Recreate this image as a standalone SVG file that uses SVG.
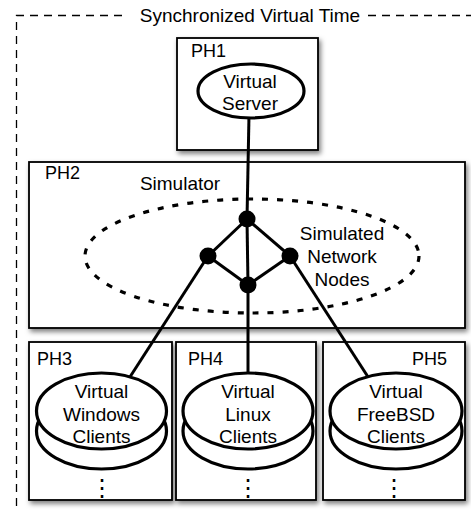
<svg xmlns="http://www.w3.org/2000/svg" width="471" height="512" viewBox="0 0 471 512">
<defs>
<filter id="sh" x="-10%" y="-10%" width="125%" height="130%">
<feDropShadow dx="2" dy="3" stdDeviation="2.5" flood-color="#000" flood-opacity="0.5"/>
</filter>
</defs>
<style>
text{font-family:"Liberation Sans",Arial,sans-serif;fill:#000}
.box{fill:#fff;stroke:#000;stroke-width:1.8;filter:url(#sh)}
.lbl{font-size:18px}
.ct{font-size:19px;text-anchor:middle}
.ell{fill:#fff;stroke:#000;stroke-width:3.2}
.ln{stroke:#000;stroke-width:3;fill:none}
.dot{fill:#000}
.outer{stroke:#000;stroke-width:1.3;fill:none;stroke-dasharray:8 6}
.vd{font-family:"DejaVu Sans",sans-serif;font-size:24px;text-anchor:middle}
</style>
<g id="frame">
<path class="outer" d="M16.5,520 V15.5 H128"/>
<path class="outer" d="M368,15.5 H480"/>
<text x="250" y="22" text-anchor="middle" style="font-size:19px">Synchronized Virtual Time</text>
</g>
<g id="PH1">
<rect class="box" x="177" y="38" width="141" height="112"/>
<text class="lbl" x="191" y="57">PH1</text>
</g>
<g id="PH2">
<rect class="box" x="29" y="162" width="436" height="166"/>
<text class="lbl" x="45" y="179">PH2</text>
<text class="ct" x="180" y="190">Simulator</text>
<ellipse cx="252" cy="256" rx="167" ry="57" fill="none" stroke="#000" stroke-width="3.2" stroke-dasharray="6 9"/>
<text class="ct" x="342" y="240">Simulated</text>
<text class="ct" x="342" y="263">Network</text>
<text class="ct" x="342" y="286">Nodes</text>
</g>
<g id="PH3">
<rect class="box" x="29" y="342" width="143" height="158"/>
<text class="lbl" x="37" y="365">PH3</text>
</g>
<g id="PH4">
<rect class="box" x="176" y="342" width="140" height="158"/>
<text class="lbl" x="188" y="365">PH4</text>
</g>
<g id="PH5">
<rect class="box" x="323" y="342" width="142" height="158"/>
<text class="lbl" x="412" y="365">PH5</text>
</g>
<g id="connectors">
<line class="ln" x1="249" y1="115" x2="247" y2="219"/>
<line class="ln" x1="247" y1="219" x2="208" y2="256"/>
<line class="ln" x1="247" y1="219" x2="290" y2="256"/>
<line class="ln" x1="208" y1="256" x2="248" y2="285"/>
<line class="ln" x1="290" y1="256" x2="248" y2="285"/>
<line class="ln" x1="247" y1="219" x2="248" y2="285"/>
<line class="ln" x1="208" y1="256" x2="128" y2="380"/>
<line class="ln" x1="290" y1="256" x2="370" y2="380"/>
<line class="ln" x1="248" y1="285" x2="248" y2="376"/>
</g>
<g id="net-nodes">
<circle class="dot" cx="247" cy="219" r="8.5"/>
<circle class="dot" cx="208" cy="256" r="8.5"/>
<circle class="dot" cx="290" cy="256" r="8.5"/>
<circle class="dot" cx="248" cy="285" r="8.5"/>
</g>
<g id="server">
<ellipse class="ell" cx="251" cy="91" rx="53" ry="27"/>
<text class="ct" x="250" y="88">Virtual</text>
<text class="ct" x="250" y="110">Server</text>
</g>
<g id="windows-clients">
<ellipse class="ell" cx="101.5" cy="431" rx="65" ry="38"/>
<ellipse class="ell" cx="101.5" cy="411" rx="65" ry="38"/>
<text class="ct" x="101.5" y="398">Virtual</text>
<text class="ct" x="101.5" y="421">Windows</text>
<text class="ct" x="101.5" y="443">Clients</text>
<text class="vd" x="102" y="496">⋮</text>
</g>
<g id="linux-clients">
<ellipse class="ell" cx="248" cy="431" rx="65" ry="38"/>
<ellipse class="ell" cx="248" cy="411" rx="65" ry="38"/>
<text class="ct" x="248" y="398">Virtual</text>
<text class="ct" x="248" y="421">Linux</text>
<text class="ct" x="248" y="443">Clients</text>
<text class="vd" x="248" y="496">⋮</text>
</g>
<g id="freebsd-clients">
<ellipse class="ell" cx="396" cy="431" rx="66" ry="38"/>
<ellipse class="ell" cx="396" cy="411" rx="66" ry="38"/>
<text class="ct" x="396" y="398">Virtual</text>
<text class="ct" x="396" y="421">FreeBSD</text>
<text class="ct" x="396" y="443">Clients</text>
<text class="vd" x="394" y="496">⋮</text>
</g>
</svg>
